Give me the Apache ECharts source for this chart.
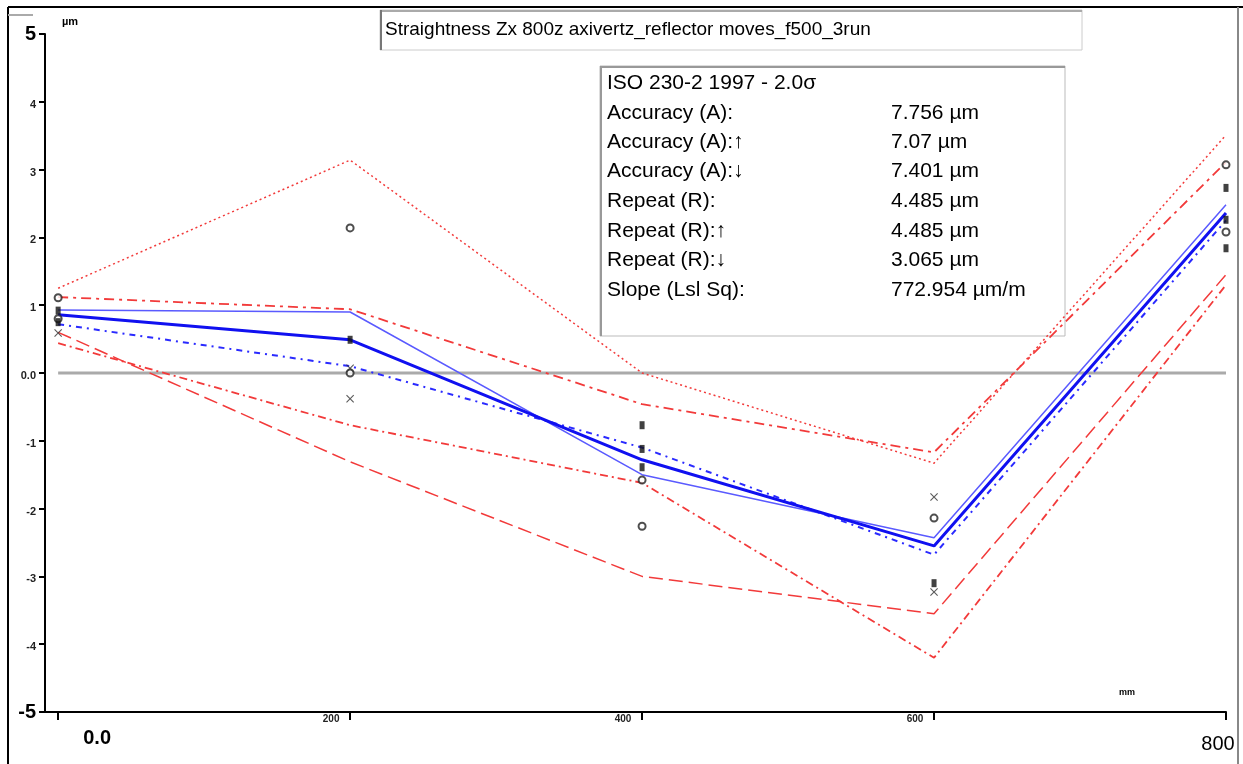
<!DOCTYPE html>
<html>
<head>
<meta charset="utf-8">
<title>Straightness Zx 800z</title>
<script src="https://cdn.jsdelivr.net/npm/echarts@6/dist/echarts.min.js"></script>
<style>
    html, body { margin: 0; padding: 0; background: #fff; }
    #main { width: 1243px; height: 764px; }
</style>
</head>
<body>
<div id="main"></div>
<script>
// target positions (mm)
const positions = [0, 200, 400, 600, 800];
// mean deviations (µm)
const meanDev = [0.86, 0.49, -1.28, -2.55, 2.36];
const fwdDev = [0.93, 0.90, -1.50, -2.43, 2.48];
const revDev = [0.72, 0.10, -1.10, -2.68, 2.25];
// +/- 2 sigma limits
const bandA = [1.25, 3.14, 0.00, -1.33, 3.51];
const bandB = [1.12, 0.94, -0.46, -1.17, 3.11];
const bandC = [0.44, -0.77, -1.62, -4.20, 1.30];
const bandD = [0.60, -1.31, -3.00, -3.55, 1.45];
// single run readings [pos, dev]
const runCircles = [[0, 1.11], [0, 0.80], [200, 2.14], [200, 0.0], [400, -1.58], [400, -2.26], [600, -2.14], [800, 3.07], [800, 2.08]];
const runFilled = [[0, 0.92], [0, 0.75], [200, 0.49], [400, -0.77], [400, -1.12], [400, -1.39], [600, -3.10], [800, 2.73], [800, 2.26], [800, 1.84]];
const runCrosses = [[0, 0.59], [200, 0.07], [200, -0.38], [600, -1.83], [600, -3.23]];
// tick labels
const xTickLabels = ['0.0', '200', '400', '600', '800'];
const yTicks = [-5, -4, -3, -2, -1, 0, 1, 2, 3, 4, 5];
const yTickLabels = ['-5', '-4', '-3', '-2', '-1', '0.0', '1', '2', '3', '4', '5'];
// statistics box
const chartTitle = 'Straightness Zx 800z axivertz_reflector moves_f500_3run';
const statHead = 'ISO 230-2 1997 - 2.0σ';
const statNames = ['Accuracy (A):', 'Accuracy (A):↑', 'Accuracy (A):↓', 'Repeat (R):', 'Repeat (R):↑', 'Repeat (R):↓', 'Slope (Lsl Sq):'];
const statValues = ['7.756 µm', '7.07 µm', '7.401 µm', '4.485 µm', '4.485 µm', '3.065 µm', '772.954 µm/m'];

const FONT = "'Liberation Sans', Arial, sans-serif";
const pairs = (vals) => positions.map((p, i) => [p, vals[i]]);

const lineSeries = (vals, color, width, type, z) => ({
    type: 'line',
    data: pairs(vals),
    symbol: 'none',
    silent: true,
    z: z || 2,
    lineStyle: { color: color, width: width, type: type }
});

let mychart = echarts.init(document.getElementById('main'));

// stats box text, row centres ~30px apart
const statRows = [115, 144, 173, 203, 233, 262, 292];
let statTexts = [{
    type: 'text', left: 607, top: 73,
    style: { text: statHead, font: '21px ' + FONT, fill: '#000' }
}];
statNames.forEach((n, i) => {
    statTexts.push({ type: 'text', left: 607, top: statRows[i] - 12, style: { text: n, font: '21px ' + FONT, fill: '#000' } });
    statTexts.push({ type: 'text', left: 891, top: statRows[i] - 12, style: { text: statValues[i], font: '21px ' + FONT, fill: '#000' } });
});

const crossPath = 'path://M0,1L1,0L5,4L9,0L10,1L6,5L10,9L9,10L5,6L1,10L0,9L4,5Z';

var option = {
    animation: false,
    grid: { left: 45, top: 34, right: 17, bottom: 52 },
    xAxis: {
        type: 'value',
        min: -9,
        max: 800,
        splitLine: { show: false },
        axisLine: { onZero: false, lineStyle: { color: '#000', width: 2 } },
        axisTick: { customValues: positions, length: 8, lineStyle: { color: '#000', width: 2 } },
        axisLabel: {
            customValues: positions,
            margin: 2,
            formatter: (v) => {
                let s = xTickLabels[positions.indexOf(v)];
                if (v === 0) return '{first|' + s + '}';
                if (v === 800) return '{last|' + s + '}';
                return '{small|' + s + '}';
            },
            rich: {
                first: { fontSize: 20, fontFamily: FONT, fontWeight: 'bold', color: '#000', padding: [14, 0, 0, 78] },
                last: { fontSize: 20, fontFamily: FONT, color: '#000', padding: [20, 16, 0, 0] },
                small: { fontSize: 10, fontFamily: FONT, fontWeight: 'bold', color: '#222', padding: [0, 38, 0, 0] }
            }
        }
    },
    yAxis: {
        type: 'value',
        min: -5,
        max: 5,
        interval: 1,
        splitLine: { show: false },
        axisLine: { onZero: false, lineStyle: { color: '#000', width: 2 } },
        axisTick: { length: 6, lineStyle: { color: '#000', width: 2 } },
        axisLabel: {
            margin: 9,
            formatter: (v) => {
                let s = yTickLabels[yTicks.indexOf(v)];
                if (v === 5 || v === -5) return '{big|' + s + '}';
                return '{small|' + s + '}';
            },
            rich: {
                big: { fontSize: 20, fontFamily: FONT, fontWeight: 'bold', color: '#000' },
                small: { fontSize: 11, fontFamily: FONT, fontWeight: 'bold', color: '#222', padding: [6, 0, 0, 0] }
            }
        }
    },
    graphic: [
        // outer frame
        { type: 'line', shape: { x1: 8, y1: 7, x2: 1243, y2: 7 }, style: { stroke: '#000', lineWidth: 2 } },
        { type: 'line', shape: { x1: 8, y1: 7, x2: 8, y2: 764 }, style: { stroke: '#000', lineWidth: 2 } },
        { type: 'line', shape: { x1: 1238, y1: 7, x2: 1238, y2: 764 }, style: { stroke: '#888', lineWidth: 2 } },
        { type: 'line', shape: { x1: 8, y1: 15, x2: 33, y2: 15 }, style: { stroke: '#aaa', lineWidth: 2 } },
        // title box
        { type: 'rect', shape: { x: 380, y: 10, width: 702, height: 40 }, style: { fill: '#fff', stroke: '#ccc', lineWidth: 1 } },
        { type: 'line', shape: { x1: 380, y1: 11, x2: 1082, y2: 11 }, style: { stroke: '#aaa', lineWidth: 2 } },
        { type: 'line', shape: { x1: 381, y1: 10, x2: 381, y2: 50 }, style: { stroke: '#777', lineWidth: 2 } },
        { type: 'text', left: 385, top: 20, style: { text: chartTitle, font: '19px ' + FONT, fill: '#000' } },
        // stats box
        { type: 'rect', shape: { x: 600, y: 66, width: 465, height: 270 }, style: { fill: '#fff', stroke: '#bbb', lineWidth: 1 } },
        { type: 'line', shape: { x1: 600, y1: 67, x2: 1065, y2: 67 }, style: { stroke: '#999', lineWidth: 2 } },
        { type: 'line', shape: { x1: 601, y1: 66, x2: 601, y2: 336 }, style: { stroke: '#999', lineWidth: 2 } },
        ...statTexts,
        // units
        { type: 'text', left: 62, top: 16, style: { text: 'µm', font: 'bold 11px ' + FONT, fill: '#000' } },
        { type: 'text', left: 1119, top: 688, style: { text: 'mm', font: 'bold 9px ' + FONT, fill: '#000' } }
    ],
    series: [
        // zero reference
        { type: 'line', data: [[0, 0], [800, 0]], symbol: 'none', silent: true, z: 1, lineStyle: { color: '#aaa', width: 3 } },
        lineSeries(bandA, '#f23a3a', 1.5, [2, 3]),
        lineSeries(bandB, '#f23a3a', 1.8, [10, 5, 3, 5]),
        lineSeries(bandC, '#f23a3a', 1.8, [8, 4, 2, 4]),
        lineSeries(bandD, '#f23a3a', 1.5, [14, 6]),
        lineSeries(fwdDev, '#5a5aff', 1.5, 'solid', 3),
        lineSeries(revDev, '#2a2aff', 2, [6, 5, 2, 5], 3),
        lineSeries(meanDev, '#1010f0', 3, 'solid', 4),
        { type: 'scatter', data: runCircles, symbol: 'emptyCircle', symbolSize: 7, z: 5, itemStyle: { color: '#222', borderWidth: 1.5 } },
        { type: 'scatter', data: runFilled, symbol: 'rect', symbolSize: [5, 8], z: 5, itemStyle: { color: '#111' } },
        { type: 'scatter', data: runCrosses, symbol: crossPath, symbolSize: 8, z: 5, itemStyle: { color: '#333' } }
    ]
};

mychart.setOption(option);
</script>
</body>
</html>
